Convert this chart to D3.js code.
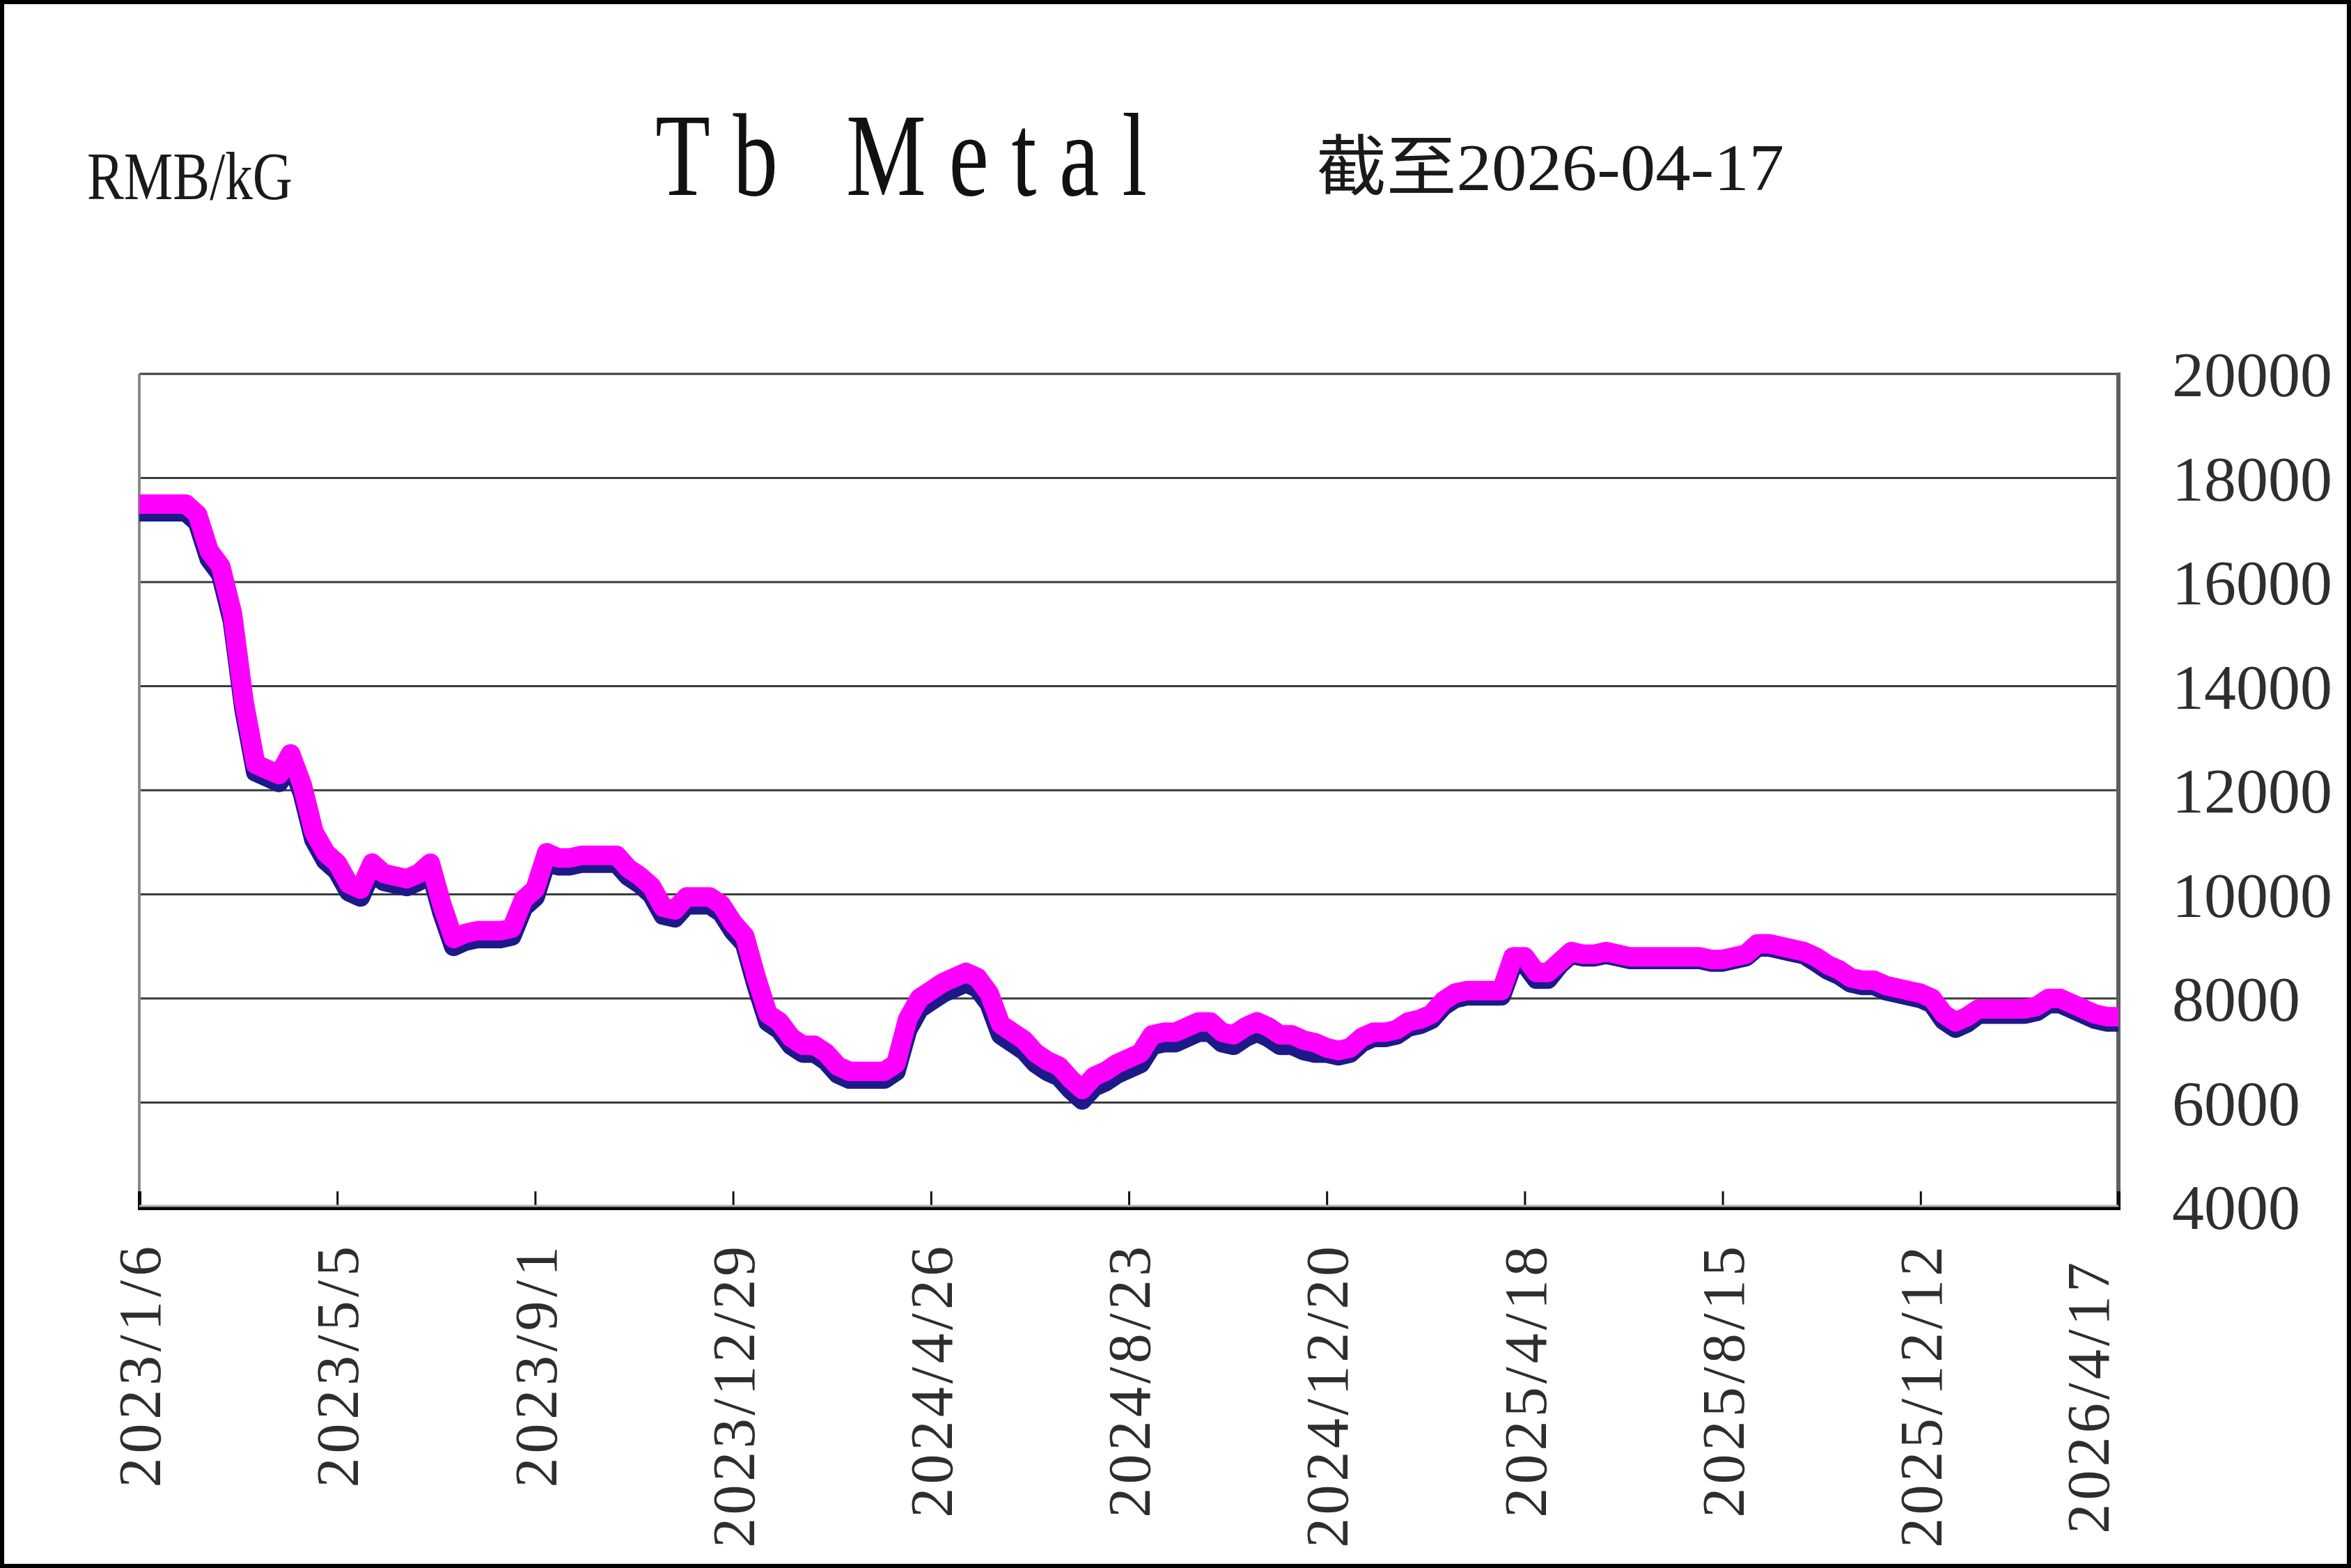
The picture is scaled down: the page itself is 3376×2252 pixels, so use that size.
<!DOCTYPE html>
<html>
<head>
<meta charset="utf-8">
<script src="https://cdn.jsdelivr.net/npm/d3@7"></script>
<style>
  body { margin: 0; background: #fff; }
  svg { display: block; }
</style>
</head>
<body>
<svg id="chart" width="3376" height="2252"></svg>
<script>
// Weekly Tb metal quotes, 2023/1/6 .. 2026/4/17 (RMB/kG).
// Magenta = upper quote, navy = lower quote (drawn underneath).
const tickLabels = [
  "2023/1/6", "2023/5/5", "2023/9/1", "2023/12/29", "2024/4/26", "2024/8/23",
  "2024/12/20", "2025/4/18", "2025/8/15", "2025/12/12", "2026/4/17"
];
const weeksPerLabel = 17;

const priceTicks = [4000, 6000, 8000, 10000, 12000, 14000, 16000, 18000, 20000];

const highPrices = [
  17500, 17500, 17500, 17500, 17500, 17300, 16600, 16300, 15400, 13700,
  12500, 12400, 12300, 12700, 12100, 11200, 10800, 10600, 10200, 10100,
  10600, 10400, 10350, 10300, 10400, 10600, 9800, 9150, 9250, 9300,
  9300, 9300, 9350, 9900, 10100, 10800, 10700, 10700, 10750, 10750,
  10750, 10750, 10500, 10350, 10150, 9750, 9700, 9950, 9950, 9950,
  9800, 9450, 9200, 8400, 7700, 7550, 7250, 7100, 7100, 6950,
  6700, 6600, 6600, 6600, 6600, 6750, 7600, 8000, 8150, 8300,
  8400, 8500, 8400, 8100, 7500, 7350, 7200, 6950, 6800, 6700,
  6450, 6250, 6500, 6600, 6750, 6850, 6950, 7300, 7350, 7350,
  7450, 7550, 7550, 7350, 7300, 7450, 7550, 7450, 7300, 7300,
  7200, 7150, 7050, 7000, 7050, 7250, 7350, 7350, 7400, 7550,
  7600, 7700, 7950, 8100, 8150, 8150, 8150, 8150, 8800, 8800,
  8500, 8500, 8700, 8900, 8850, 8850, 8900, 8850, 8800, 8800,
  8800, 8800, 8800, 8800, 8800, 8750, 8750, 8800, 8850, 9050,
  9050, 9000, 8950, 8900, 8800, 8650, 8550, 8400, 8350, 8350,
  8250, 8200, 8150, 8100, 8000, 7700, 7550, 7650, 7800, 7800,
  7800, 7800, 7800, 7850, 8000, 8000, 7900, 7800, 7700, 7650,
  7650
];

const lowPrices = [
  17350, 17350, 17350, 17350, 17350, 17150, 16450, 16150, 15250, 13550,
  12350, 12250, 12150, 12550, 11950, 11050, 10650, 10450, 10050, 9950,
  10450, 10250, 10200, 10150, 10250, 10450, 9650, 9000, 9100, 9150,
  9150, 9150, 9200, 9750, 9950, 10650, 10550, 10550, 10600, 10600,
  10600, 10600, 10350, 10200, 10000, 9600, 9550, 9800, 9800, 9800,
  9650, 9300, 9050, 8250, 7550, 7400, 7100, 6950, 6950, 6800,
  6550, 6450, 6450, 6450, 6450, 6600, 7400, 7800, 7950, 8100,
  8200, 8300, 8200, 7900, 7300, 7150, 7000, 6750, 6600, 6500,
  6250, 6050, 6300, 6400, 6550, 6650, 6750, 7100, 7150, 7150,
  7250, 7350, 7350, 7150, 7100, 7250, 7350, 7250, 7100, 7100,
  7000, 6950, 6950, 6900, 6950, 7150, 7250, 7250, 7300, 7450,
  7500, 7600, 7850, 8000, 8050, 8050, 8050, 8050, 8670, 8670,
  8370, 8370, 8650, 8850, 8800, 8800, 8850, 8800, 8750, 8750,
  8750, 8750, 8750, 8750, 8750, 8700, 8700, 8750, 8800, 8990,
  8990, 8940, 8890, 8840, 8700, 8550, 8450, 8300, 8250, 8250,
  8150, 8100, 8050, 8000, 7900, 7580, 7430, 7530, 7700, 7700,
  7700, 7700, 7700, 7750, 7900, 7900, 7800, 7700, 7600, 7550,
  7550
];

function drawChart() {
  const svg = d3.select("#chart");
  const width = +svg.attr("width");
  const height = +svg.attr("height");

  const plot = { left: 200, right: 3042, top: 537, bottom: 1733 };
  const serif = "'Liberation Serif', 'DejaVu Serif', serif";

  svg.append("rect")
    .attr("width", width)
    .attr("height", height)
    .attr("fill", "#fff");

  const x = d3.scaleLinear()
    .domain([0, highPrices.length - 1])
    .range([plot.left, plot.right]);

  const y = d3.scaleLinear()
    .domain([4000, 20000])
    .range([plot.bottom, plot.top]);

  // horizontal grid (top one doubles as plot frame)
  svg.append("g")
    .selectAll("line")
    .data(priceTicks.filter(v => v > 4000))
    .join("line")
    .attr("x1", plot.left)
    .attr("x2", plot.right)
    .attr("y1", d => y(d))
    .attr("y2", d => y(d))
    .attr("stroke", "#3a3a3a")
    .attr("stroke-width", 3);

  // left and right frame lines
  svg.append("line")
    .attr("x1", plot.left).attr("x2", plot.left)
    .attr("y1", plot.top).attr("y2", plot.bottom)
    .attr("stroke", "#8a8a8a")
    .attr("stroke-width", 4);

  svg.append("line")
    .attr("x1", plot.right).attr("x2", plot.right)
    .attr("y1", plot.top - 2).attr("y2", plot.bottom + 4)
    .attr("stroke", "#5e5e5e")
    .attr("stroke-width", 6);

  // bottom axis: grey lip + black line, ticks pointing up
  const tickIdx = tickLabels.map((_, i) => i * weeksPerLabel);

  svg.append("g")
    .attr("transform", `translate(0,${plot.bottom + 2})`)
    .call(d3.axisBottom(x).tickValues(tickIdx).tickSize(-24).tickFormat(""))
    .call(axis => {
      axis.select(".domain").attr("stroke", "#000").attr("stroke-width", 5);
      axis.selectAll(".tick line").attr("stroke", "#111").attr("stroke-width", 3);
    });

  svg.append("line")
    .attr("x1", plot.left).attr("x2", plot.right)
    .attr("y1", plot.bottom - 1).attr("y2", plot.bottom - 1)
    .attr("stroke", "#b0b0b0")
    .attr("stroke-width", 3);

  // price lines
  const line = d3.line()
    .x((d, i) => x(i))
    .y(d => y(d));

  svg.append("path")
    .attr("d", line(lowPrices))
    .attr("fill", "none")
    .attr("stroke", "#1c1a88")
    .attr("stroke-width", 28)
    .attr("stroke-linejoin", "round");

  svg.append("path")
    .attr("d", line(highPrices))
    .attr("fill", "none")
    .attr("stroke", "#ff00ff")
    .attr("stroke-width", 28)
    .attr("stroke-linejoin", "round");

  // right-hand price labels
  svg.append("g")
    .selectAll("text")
    .data(priceTicks)
    .join("text")
    .attr("x", 3119)
    .attr("y", d => y(d))
    .attr("dy", "0.35em")
    .attr("font-family", serif)
    .attr("font-size", 92)
    .attr("fill", "#2e2e2e")
    .text(d => d);

  // rotated date labels
  const last = tickLabels.length - 1;
  svg.append("g")
    .selectAll("text")
    .data(tickLabels)
    .join("text")
    .attr("transform", (d, i) => {
      const px = x(i * weeksPerLabel) + (i === last ? -44 : 0);
      const py = i === last ? 1813 : 1790;
      return `translate(${px},${py}) rotate(-90)`;
    })
    .attr("text-anchor", "end")
    .attr("dy", "0.35em")
    .attr("font-family", serif)
    .attr("font-size", 86)
    .attr("fill", "#2e2e2e")
    .attr("textLength", d => d.length * 43.3)
    .attr("lengthAdjust", "spacing")
    .text(d => d);

  // headings
  svg.append("text")
    .attr("transform", "translate(125,286)")
    .attr("font-family", serif)
    .attr("font-size", 98)
    .attr("fill", "#1a1a1a")
    .attr("textLength", 295)
    .attr("lengthAdjust", "spacingAndGlyphs")
    .text("RMB/kG");

  svg.append("text")
    .attr("transform", "translate(941,280) scale(0.76,1)")
    .attr("font-family", serif)
    .attr("font-size", 170)
    .attr("fill", "#111")
    .attr("textLength", 929)
    .attr("lengthAdjust", "spacing")
    .text("Tb Metal");

  svg.append("text")
    .attr("transform", "translate(1890,273)")
    .attr("font-family", "'Liberation Serif', 'Noto Sans CJK SC', serif")
    .attr("font-size", 95)
    .attr("fill", "#1a1a1a")
    .attr("textLength", 672)
    .attr("lengthAdjust", "spacingAndGlyphs")
    .text("截至2026-04-17");

  // outer frame
  svg.append("rect")
    .attr("x", 3)
    .attr("y", 3)
    .attr("width", width - 6)
    .attr("height", height - 6)
    .attr("fill", "none")
    .attr("stroke", "#000")
    .attr("stroke-width", 6);
}

drawChart();
</script>
</body>
</html>
